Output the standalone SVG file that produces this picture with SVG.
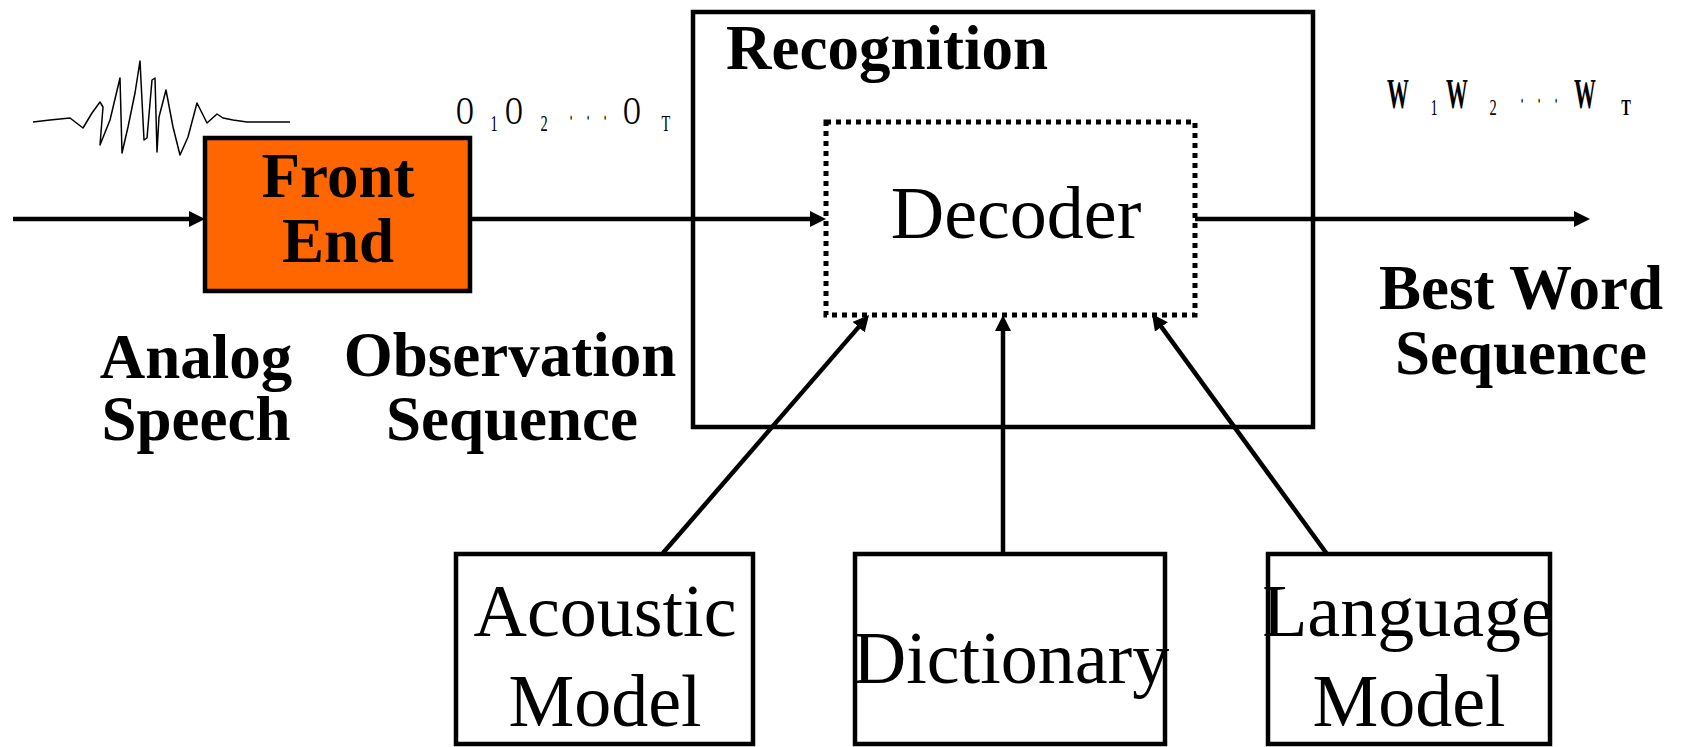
<svg xmlns="http://www.w3.org/2000/svg" width="1681" height="747" viewBox="0 0 1681 747">
<style>
.box{fill:#fff;stroke:#000;stroke-width:4.5}
.line{fill:none;stroke:#000;stroke-width:4.5}
.bold{font-family:"Liberation Serif","Times New Roman",serif;font-weight:bold;font-size:63px;fill:#000}
.reg{font-family:"Liberation Serif","Times New Roman",serif;font-size:74px;fill:#000}
.seq{font-family:"Liberation Serif","Times New Roman",serif;fill:#000}
</style>
<defs>
<marker id="ah" markerUnits="userSpaceOnUse" markerWidth="16" markerHeight="16" refX="6" refY="8" orient="auto">
<path d="M0,0 L16,8 L0,16 z" fill="#000"/>
</marker>
</defs>
<rect width="1681" height="747" fill="#fff"/>

<g id="waveform">
<polyline fill="none" stroke="#000" stroke-width="1.5" stroke-linejoin="round" points="33,122 50,120 70,118 83,128 92,113 100,102 103,107 100,145 110,120 120,78 122,153 128,127 135,93 140,61 144,140 147,138 152,80 155,78 157,152 159,117 166,90 173,127 180,155 188,137 197,103 207,123 217,114 223,118 233,120 247,122 290,122"/>
</g>

<g id="recognition">
<rect class="box" x="693" y="12" width="620" height="415"/>
<text class="bold" x="726" y="69" font-size="64">Recognition</text>
</g>

<g id="front-end">
<rect x="205" y="138" width="265" height="153" fill="#FF6600" stroke="#000" stroke-width="4.5"/>
<text class="bold" x="338" y="197" text-anchor="middle">Front</text>
<text class="bold" x="338" y="262" text-anchor="middle">End</text>
</g>

<g id="decoder">
<rect x="826" y="122" width="369" height="193" fill="#fff" stroke="#000" stroke-width="5" stroke-dasharray="5 5"/>
<text class="reg" x="1016" y="238" text-anchor="middle">Decoder</text>
</g>

<g id="acoustic-model">
<rect class="box" x="456" y="554" width="297" height="190"/>
<text class="reg" x="605" y="636" text-anchor="middle">Acoustic</text>
<text class="reg" x="605" y="726" text-anchor="middle">Model</text>
</g>

<g id="dictionary">
<rect class="box" x="855" y="554" width="310" height="190"/>
<text class="reg" x="1011" y="683" text-anchor="middle">Dictionary</text>
</g>

<g id="language-model">
<rect class="box" x="1268" y="554" width="282" height="190"/>
<text class="reg" x="1408" y="636" text-anchor="middle">Language</text>
<text class="reg" x="1409" y="726" text-anchor="middle">Model</text>
</g>

<g id="labels">
<text class="bold" x="196" y="378" text-anchor="middle">Analog</text>
<text class="bold" x="196" y="440" text-anchor="middle">Speech</text>
<text class="bold" x="510" y="376" text-anchor="middle">Observation</text>
<text class="bold" x="512" y="440" text-anchor="middle">Sequence</text>
<text class="bold" x="1521" y="309" text-anchor="middle">Best Word</text>
<text class="bold" x="1521" y="374" text-anchor="middle">Sequence</text>
</g>

<g id="observation-symbols" class="seq" text-anchor="middle">
<text font-size="40" transform="translate(465,124) scale(0.6,1)">O</text>
<text font-size="24" transform="translate(494,131) scale(0.6,1)">1</text>
<text font-size="40" transform="translate(514,124) scale(0.6,1)">O</text>
<text font-size="24" transform="translate(544,131) scale(0.6,1)">2</text>
<text font-size="24" transform="translate(571,120) scale(0.45,1.6)">.</text>
<text font-size="24" transform="translate(588,120) scale(0.45,1.6)">.</text>
<text font-size="24" transform="translate(605,120) scale(0.45,1.6)">.</text>
<text font-size="40" transform="translate(632,124) scale(0.6,1)">O</text>
<text font-size="24" transform="translate(666,131) scale(0.6,1)">T</text>
</g>

<g id="word-symbols" class="seq" text-anchor="middle" font-weight="bold">
<text font-size="42" transform="translate(1398,108) scale(0.52,1)">W</text>
<text font-size="24" font-weight="normal" transform="translate(1434,115) scale(0.6,1)">1</text>
<text font-size="42" transform="translate(1457,108) scale(0.52,1)">W</text>
<text font-size="24" font-weight="normal" transform="translate(1493,115) scale(0.6,1)">2</text>
<text font-size="24" font-weight="normal" transform="translate(1522,103) scale(0.45,1.6)">.</text>
<text font-size="24" font-weight="normal" transform="translate(1539,103) scale(0.45,1.6)">.</text>
<text font-size="24" font-weight="normal" transform="translate(1556,103) scale(0.45,1.6)">.</text>
<text font-size="42" transform="translate(1585,108) scale(0.52,1)">W</text>
<text font-size="24" transform="translate(1626,115) scale(0.6,1)">T</text>
</g>

<g id="connectors">
<line class="line" x1="13" y1="219" x2="195" y2="219" marker-end="url(#ah)"/>
<line class="line" x1="470" y1="219" x2="816" y2="219" marker-end="url(#ah)"/>
<line class="line" x1="1195" y1="219" x2="1580" y2="219" marker-end="url(#ah)"/>
<line class="line" x1="663" y1="553" x2="862.5" y2="322.6" marker-end="url(#ah)"/>
<line class="line" x1="1003" y1="554" x2="1003" y2="325" marker-end="url(#ah)"/>
<line class="line" x1="1327" y1="554" x2="1157.9" y2="322.1" marker-end="url(#ah)"/>
</g>
</svg>
